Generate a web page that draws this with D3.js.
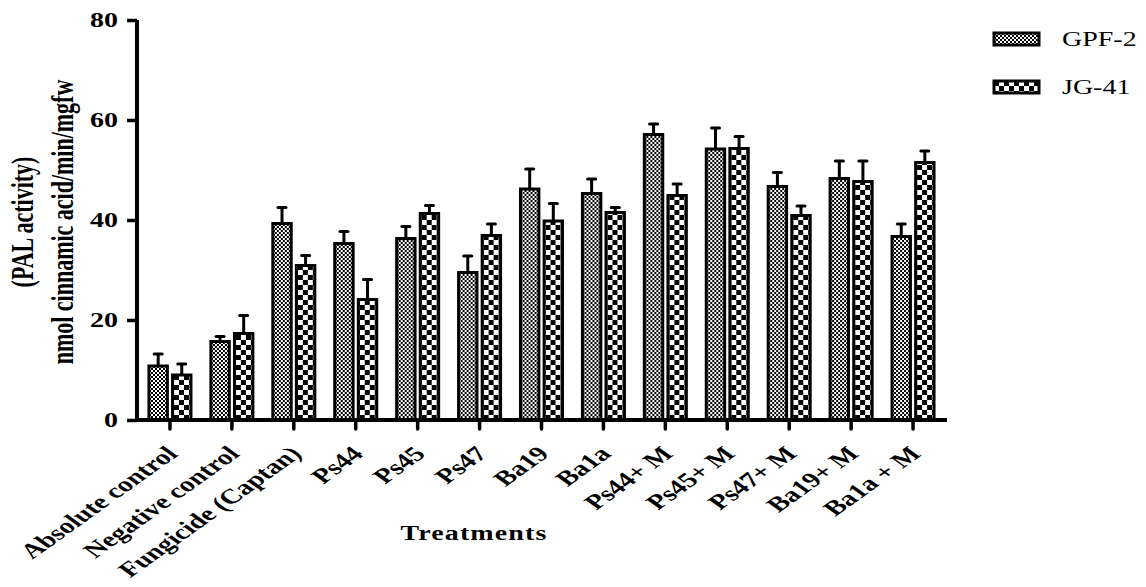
<!DOCTYPE html>
<html>
<head>
<meta charset="utf-8">
<script src="https://cdn.jsdelivr.net/npm/d3@7"></script>
<style>
  body { margin: 0; background: #fff; }
  text { font-family: "Liberation Serif", "Times New Roman", serif; }
</style>
</head>
<body>
<script>
const categories = [
  "Absolute control", "Negative control", "Fungicide (Captan)", "Ps44", "Ps45", "Ps47",
  "Ba19", "Ba1a", "Ps44+ M", "Ps45+ M", "Ps47+ M", "Ba19+ M", "Ba1a + M"
];
const series = ["GPF-2", "JG-41"];
const gpfValues = [10.8, 15.7, 39.3, 35.3, 36.3, 29.5, 46.2, 45.3, 57.1, 54.2, 46.7, 48.3, 36.7];
const gpfErrors = [2.4, 1.0, 3.2, 2.4, 2.4, 3.3, 4.0, 2.9, 2.1, 4.2, 2.8, 3.5, 2.5];
const jgValues = [9.0, 17.3, 30.9, 24.1, 41.3, 36.9, 39.8, 41.5, 44.9, 54.3, 40.9, 47.7, 51.5];
const jgErrors = [2.2, 3.6, 2.0, 4.0, 1.6, 2.3, 3.5, 1.0, 2.3, 2.4, 1.9, 4.1, 2.3];
const yTicks = [0, 20, 40, 60, 80];

const w = 1146, h = 587;
const sx = 1.4; // the original figure is stretched sideways, text included

const svg = d3.select("body").append("svg")
  .attr("width", w)
  .attr("height", h);

// patterns
const defs = svg.append("defs");
const fine = defs.append("pattern")
  .attr("id", "pat-gpf")
  .attr("width", 4).attr("height", 4)
  .attr("patternUnits", "userSpaceOnUse");
fine.append("rect").attr("width", 4).attr("height", 4).attr("fill", "#fff");
fine.append("rect").attr("width", 2).attr("height", 2).attr("fill", "#000");
fine.append("rect").attr("x", 2).attr("y", 2).attr("width", 2).attr("height", 2).attr("fill", "#000");

const coarse = defs.append("pattern")
  .attr("id", "pat-jg")
  .attr("width", 10).attr("height", 10)
  .attr("patternUnits", "userSpaceOnUse");
coarse.append("rect").attr("width", 10).attr("height", 10).attr("fill", "#fff");
coarse.append("rect").attr("width", 5).attr("height", 5).attr("fill", "#000");
coarse.append("rect").attr("x", 5).attr("y", 5).attr("width", 5).attr("height", 5).attr("fill", "#000");

const fills = ["url(#pat-gpf)", "url(#pat-jg)"];

const x = d3.scaleBand()
  .domain(categories)
  .range([139, 944]);

const x1 = d3.scaleBand()
  .domain(series)
  .range([x.bandwidth() / 2 - 21, x.bandwidth() / 2 + 21])
  .paddingInner(0.22);

const y = d3.scaleLinear()
  .domain([0, 80])
  .range([420, 20]);

const rows = categories.map((c, i) => ({
  cat: c,
  vals: [
    { s: "GPF-2", v: gpfValues[i], e: gpfErrors[i], idx: 0 },
    { s: "JG-41", v: jgValues[i], e: jgErrors[i], idx: 1 }
  ]
}));

const groups = svg.append("g")
  .selectAll("g")
  .data(rows)
  .enter()
  .append("g")
  .attr("transform", (d) => "translate(" + x(d.cat) + ",0)");

// error bars (upper only)
groups.selectAll("g.err")
  .data((d) => d.vals)
  .enter()
  .append("g")
  .attr("class", "err")
  .each(function (d) {
    const g = d3.select(this);
    const cx = x1(d.s) + x1.bandwidth() / 2;
    g.append("line")
      .attr("x1", cx).attr("x2", cx)
      .attr("y1", y(d.v)).attr("y2", y(d.v + d.e))
      .attr("stroke", "#000").attr("stroke-width", 3);
    g.append("line")
      .attr("x1", cx - 4).attr("x2", cx + 4)
      .attr("y1", y(d.v + d.e)).attr("y2", y(d.v + d.e))
      .attr("stroke", "#000").attr("stroke-width", 3)
      .attr("stroke-linecap", "round");
  });

groups.selectAll("rect")
  .data((d) => d.vals)
  .enter()
  .append("rect")
  .attr("x", (d) => x1(d.s))
  .attr("y", (d) => y(d.v))
  .attr("width", x1.bandwidth())
  .attr("height", (d) => y(0) - y(d.v))
  .attr("fill", (d) => fills[d.idx])
  .attr("stroke", "#000")
  .attr("stroke-width", 3);

// y axis
const yAxis = svg.append("g")
  .attr("transform", "translate(137,0)")
  .call(d3.axisLeft(y).tickValues(yTicks).tickSize(10));
yAxis.select(".domain").attr("stroke-width", 4).attr("d", "M0," + y(80) + "V" + (y(0) + 1.5));
yAxis.selectAll(".tick line").attr("stroke-width", 3.5);
yAxis.selectAll(".tick text")
  .attr("font-family", "Liberation Serif")
  .attr("font-size", 20)
  .attr("font-weight", "bold")
  .attr("x", -13.5)
  .attr("dy", "0.34em")
  .attr("transform", "scale(" + sx + ",1)");

// x axis
const xAxis = svg.append("g")
  .attr("transform", "translate(0,420)")
  .call(d3.axisBottom(x).tickSize(9));
xAxis.select(".domain").attr("stroke-width", 4).attr("d", "M135,0H947");
xAxis.selectAll(".tick line").attr("stroke-width", 3.5).attr("stroke-linecap", "round");
xAxis.selectAll(".tick text")
  .attr("font-family", "Liberation Serif")
  .attr("font-size", 21)
  .attr("font-weight", "bold")
  .attr("text-anchor", "end")
  .attr("x", 0).attr("y", 0).attr("dy", 0)
  .attr("transform", "translate(9,35) scale(" + sx + ",1) rotate(-45)");

svg.append("text")
  .attr("transform", "translate(474,540) scale(" + sx + ",1)")
  .attr("text-anchor", "middle")
  .attr("font-size", 20)
  .attr("font-weight", "bold")
  .attr("letter-spacing", 0.8)
  .text("Treatments");

// y title
const yt = svg.append("text")
  .attr("transform", "translate(0,222) scale(" + sx + ",1) rotate(-90)")
  .attr("text-anchor", "middle")
  .attr("font-size", 22)
  .attr("font-weight", "bold");
yt.append("tspan").attr("x", 0).attr("y", 23.5).text("(PAL activity)");
yt.append("tspan").attr("x", 0).attr("y", 52.5).text("nmol cinnamic acid/min/mgfw");

// legend
const legend = svg.append("g")
  .selectAll("g")
  .data(series)
  .enter()
  .append("g")
  .attr("transform", (d, i) => "translate(994," + (33 + i * 48) + ")");

legend.append("rect")
  .attr("width", 45)
  .attr("height", 12)
  .attr("fill", (d, i) => fills[i])
  .attr("stroke", "#000")
  .attr("stroke-width", 3);

legend.append("text")
  .attr("transform", "translate(68,13) scale(" + sx + ",1)")
  .attr("font-size", 20)
  .text((d) => d);
</script>
</body>
</html>
